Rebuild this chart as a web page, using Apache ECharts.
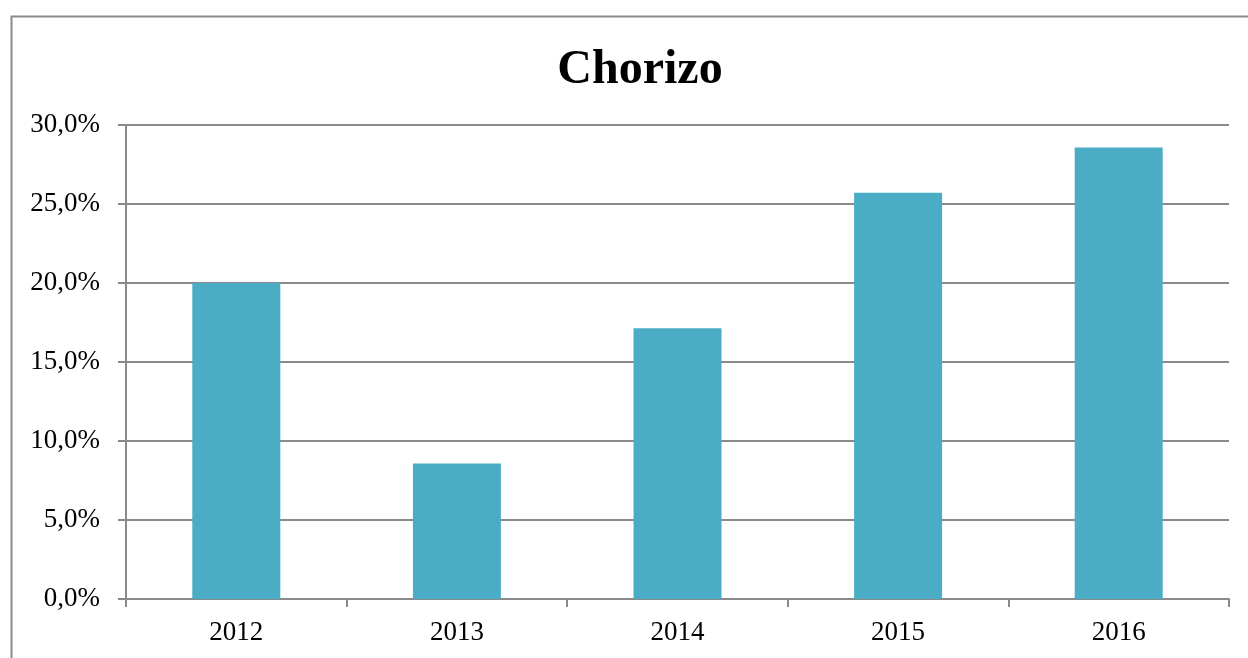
<!DOCTYPE html>
<html>
<head>
<meta charset="utf-8">
<script src="https://cdn.jsdelivr.net/npm/echarts@6/dist/echarts.min.js"></script>
<style>
html,body{margin:0;padding:0;background:#fff;}
#chart{width:1248px;height:658px;}
</style>
</head>
<body>
<div id="chart"></div>
<script>
const title = 'Chorizo';
const categories = ['2012', '2013', '2014', '2015', '2016'];
const values = [20.0, 8.57, 17.14, 25.71, 28.57];
const yTicks = [0, 5, 10, 15, 20, 25, 30];

const chart = echarts.init(document.getElementById('chart'));
const font = '"Liberation Serif", "DejaVu Serif", serif';
const gray = '#8a8a8a';
chart.setOption({
  animation: false,
  backgroundColor: '#fff',
  graphic: [{
    type: 'rect',
    shape: { x: 11.5, y: 16.5, width: 1300, height: 700 },
    style: { fill: 'none', stroke: gray, lineWidth: 2 },
    silent: true, z: -1
  }],
  title: {
    text: title,
    left: 635, top: 42, textAlign: 'center',
    textStyle: { fontFamily: font, fontSize: 48, fontWeight: 'bold', color: '#000' }
  },
  grid: { left: 126, right: 19, top: 125, bottom: 59, containLabel: false },
  xAxis: {
    type: 'category',
    data: categories,
    axisLine: { lineStyle: { color: gray, width: 2 } },
    axisTick: { show: true, length: 8, lineStyle: { color: gray, width: 2 } },
    axisLabel: { fontFamily: font, fontSize: 27, color: '#000', margin: 20 }
  },
  yAxis: {
    type: 'value',
    min: yTicks[0], max: yTicks[yTicks.length - 1], interval: 5,
    axisLine: { show: true, lineStyle: { color: gray, width: 2 } },
    axisTick: { show: true, length: 8, lineStyle: { color: gray, width: 2 } },
    splitLine: { lineStyle: { color: gray, width: 2 } },
    axisLabel: {
      fontFamily: font, fontSize: 27, color: '#000', margin: 26,
      formatter: v => v.toFixed(1).replace('.', ',') + '%'
    }
  },
  series: [{
    type: 'bar',
    data: values,
    barWidth: 88,
    itemStyle: { color: '#4BACC6' }
  }]
});
</script>
</body>
</html>
